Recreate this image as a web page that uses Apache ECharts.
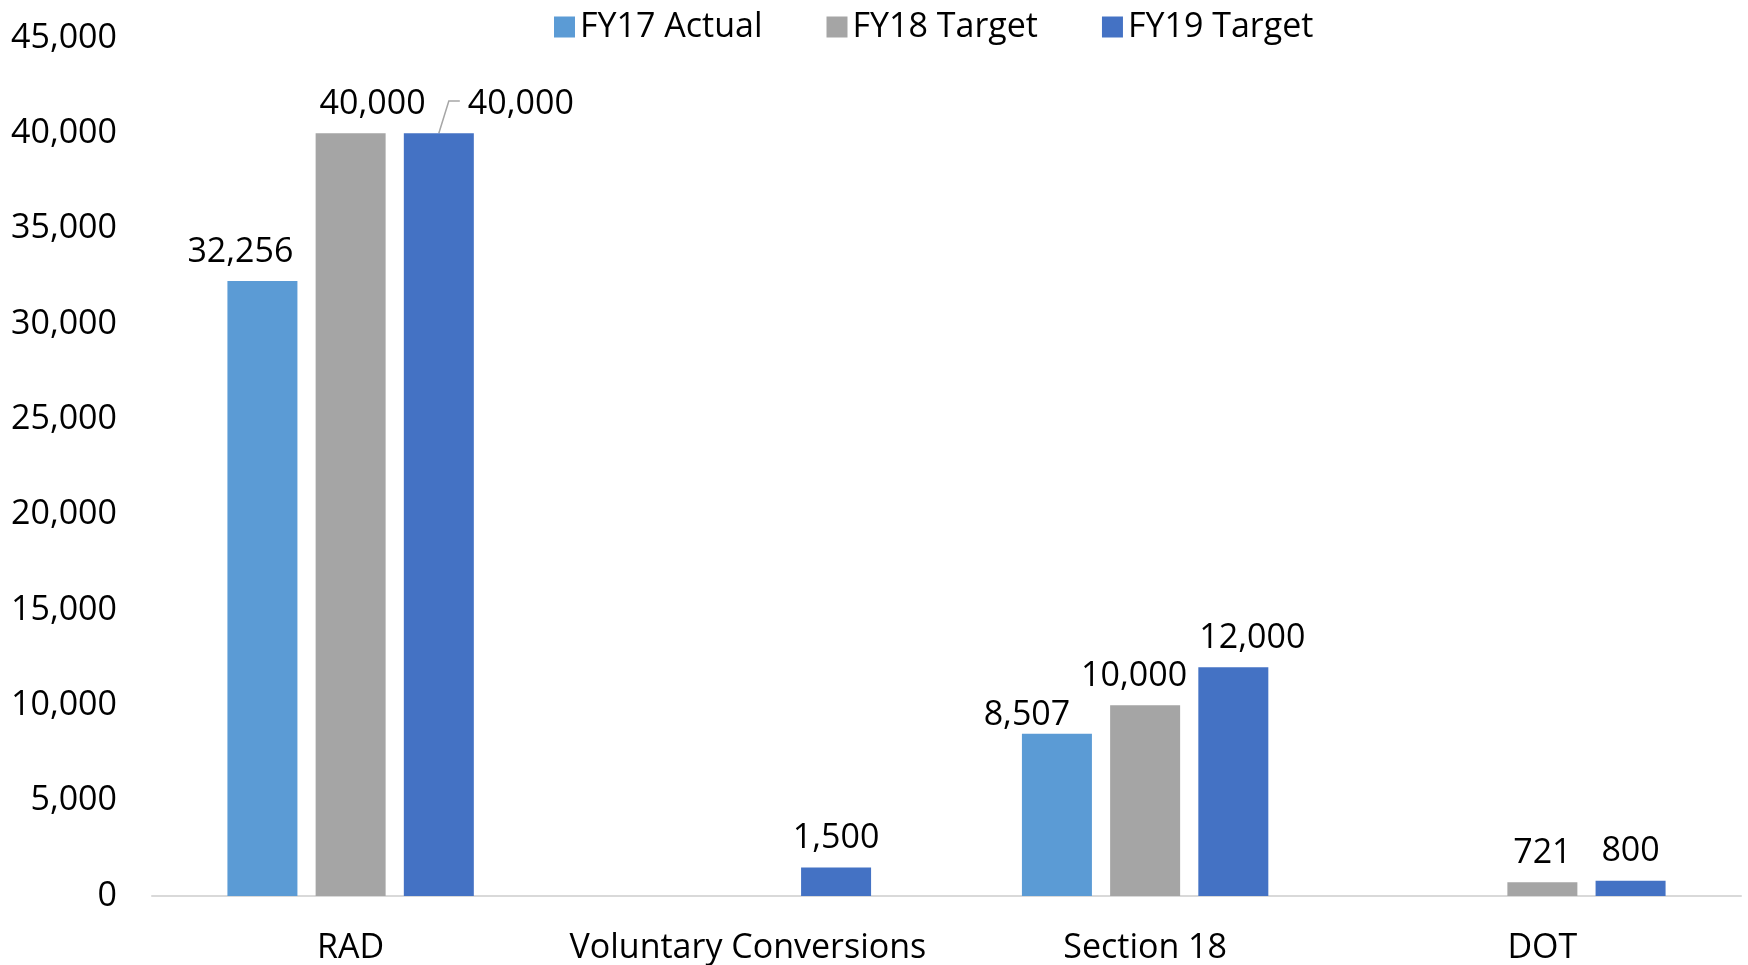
<!DOCTYPE html>
<html>
<head>
<meta charset="utf-8">
<script src="https://cdn.jsdelivr.net/npm/echarts@6/dist/echarts.min.js"></script>
<style>
html,body{margin:0;padding:0;background:#fff;}
#chart{width:1748px;height:965px;}
</style>
</head>
<body>
<div id="chart"></div>
<script>
var categories = ['RAD', 'Voluntary Conversions', 'Section 18', 'DOT'];
var seriesNames = ['FY17 Actual', 'FY18 Target', 'FY19 Target'];
var fy17 = [32256, null, 8507, null];
var fy18 = [40000, null, 10000, 721];
var fy19 = [40000, 1500, 12000, 800];
var yTicks = [0, 5000, 10000, 15000, 20000, 25000, 30000, 35000, 40000, 45000];

var colors = ['#5B9BD5', '#A5A5A5', '#4472C4'];
var FONT = '"Open Sans", "Noto Sans", sans-serif';
var FS = 34;
// nudges of data labels (px), per series then per category, to avoid overlap
var labelShiftX = [
  [-22, 0, -30, 0],
  [22, 0, -11, 0],
  [82, 0, 19, 0]
];
var labelShiftY = [
  [0, 0, 11, 0],
  [0, 0, 0, 0],
  [0, 0, 0, 0]
];

function fmt(v){ return Number(v).toLocaleString('en-US'); }

var chart = echarts.init(document.getElementById('chart'), null, {renderer:'canvas'});

function makeSeries(name, values, idx){
  return {
    name: name,
    type: 'bar',
    data: values,
    barWidth: 70,
    barGap: '26%',
    itemStyle: {color: colors[idx]},
    label: {
      show: true,
      position: 'top',
      distance: 12,
      color: '#000',
      fontFamily: FONT,
      fontSize: FS,
      formatter: function(p){ return p.value == null ? '' : fmt(p.value); }
    },
    labelLayout: function(params){
      return {dx: labelShiftX[idx][params.dataIndex] || 0, dy: labelShiftY[idx][params.dataIndex] || 0};
    },
    emphasis: {disabled: true},
    animation: false
  };
}

var option = {
  backgroundColor: '#fff',
  animation: false,
  legend: {
    top: 5,
    left: 549,
    itemWidth: 21,
    itemHeight: 21,
    itemGap: 64,
    icon: 'rect',
    textStyle: {fontFamily: FONT, fontSize: FS, color: '#000'},
    data: seriesNames
  },
  grid: {left: 152, right: 7, top: 38, bottom: 69, containLabel: false},
  xAxis: {
    type: 'category',
    data: categories,
    axisLine: {show: true, lineStyle: {color: '#D9D9D9', width: 2}},
    axisTick: {show: false},
    axisLabel: {interval: 0, fontFamily: FONT, fontSize: FS, color: '#000', margin: 35}
  },
  yAxis: {
    type: 'value',
    min: yTicks[0],
    max: yTicks[yTicks.length - 1],
    interval: yTicks[1] - yTicks[0],
    splitLine: {show: false},
    axisLine: {show: false},
    axisTick: {show: false},
    axisLabel: {fontFamily: FONT, fontSize: FS, color: '#000', margin: 35, formatter: function(v){ return fmt(v); }}
  },
  series: [
    makeSeries(seriesNames[0], fy17, 0),
    makeSeries(seriesNames[1], fy18, 1),
    makeSeries(seriesNames[2], fy19, 2)
  ]
};
chart.setOption(option);

// leader line for the moved label (RAD, FY19), computed from the bar's layout
(function(){
  var data = chart.getModel().getSeriesByIndex(2).getData();
  var lay = data.getItemLayout(0);
  var cx = lay.x + lay.width / 2;
  var topY = Math.min(lay.y, lay.y + lay.height);
  var ctx = document.createElement('canvas').getContext('2d');
  ctx.font = FS + 'px ' + FONT;
  var tw = ctx.measureText(fmt(fy19[0])).width;
  var labelCenterY = topY - 12 - FS * 0.6;
  var labelLeft = cx + labelShiftX[2][0] - tw / 2;
  chart.setOption({
    graphic: [{
      type: 'polyline',
      silent: true,
      shape: {points: [[cx, topY], [cx + 10, labelCenterY], [labelLeft - 8, labelCenterY]]},
      style: {stroke: '#A6A6A6', lineWidth: 1.5, fill: null}
    }]
  });
})();
</script>
</body>
</html>
